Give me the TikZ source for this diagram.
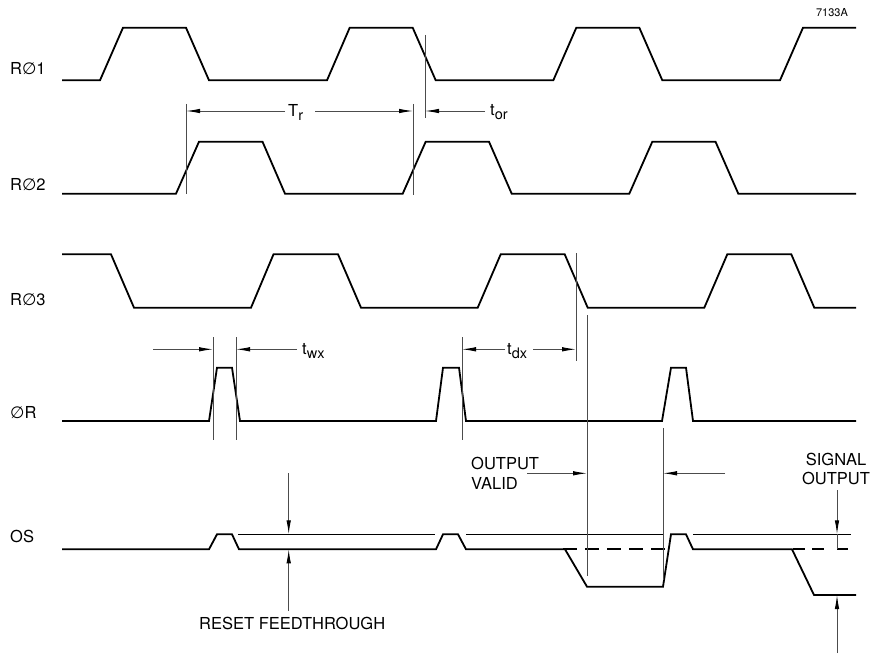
\documentclass[tikz,border=0pt]{standalone}
\usepackage{fontspec}
\setmainfont{TeX Gyre Heros}
\newfontfamily\symf{DejaVu Sans}
\usetikzlibrary{arrows.meta}
\newcommand{\phisym}{{\symf\fontsize{16.5}{16.5}\selectfont ∅}}
\newcommand{\subtxt}[1]{\raisebox{-4pt}{\fontsize{14.5}{14.5}\selectfont #1}}
\begin{document}
\begin{tikzpicture}[x=1pt,y=-1pt,
  sig/.style={line width=1.8pt, line join=miter},
  dim/.style={line width=0.9pt, black!70},
  arr/.style={dim,-{Latex[length=14pt,width=4.5pt,color=black]}},
  lbl/.style={font=\fontsize{16.5}{16.5}\selectfont, inner sep=0pt},
  small/.style={font=\fontsize{11}{11}\selectfont, inner sep=0pt}]
\useasboundingbox (0,0) rectangle (874,655);

% ---- signals ----
\draw[sig] (62,80.3)--(100,80.3)--(123,27.7)--(186,27.7)--(209,80.3)--(327,80.3)--(349.7,27.7)--(412.7,27.7)--(435.7,80.3)--(553.3,80.3)--(576.3,27.7)--(639.3,27.7)--(662.3,80.3)--(780,80.3)--(803,27.7)--(856,27.7);
\draw[sig] (62,193.7)--(176,193.7)--(199,141.7)--(262.5,141.7)--(285,193.7)--(402.7,193.7)--(425.7,141.7)--(489,141.7)--(511.7,193.7)--(629.3,193.7)--(652.3,141.7)--(715.5,141.7)--(738.3,193.7)--(856,193.7);
\draw[sig] (62,254.3)--(111,254.3)--(134,307.7)--(251,307.7)--(273.5,254.3)--(338,254.3)--(361,307.7)--(477.7,307.7)--(500.7,254.3)--(564.7,254.3)--(587.7,307.7)--(704.3,307.7)--(727.3,254.3)--(791.3,254.3)--(814.3,307.7)--(856,307.7);
\draw[sig] (62,421)--(209,421)--(217,367.7)--(232,367.7)--(240,421)--(436,421)--(443,367.7)--(459,367.7)--(466,421)--(662,421)--(671,367.7)--(686,367.7)--(693,421)--(856,421);
\draw[sig] (62,549.3)--(209,549.3)--(217,534.3)--(232,534.3)--(239,549.3)--(436,549.3)--(443,534.3)--(458,534.3)--(466,549.3)--(565,549.3)--(587,586.7)--(663,586.7)--(671,534.3)--(686,534.3)--(693,549.3)--(792,549.3)--(814,595)--(856,595);
\draw[sig, dash pattern=on 14pt off 8pt] (563,549.3)--(667,549.3);
\draw[sig, dash pattern=on 12pt off 7pt] (793,549.3)--(826,549.3);
\draw[sig] (837,549.3)--(848,549.3);
% reference line
\draw[line width=0.9pt] (238,534.3)--(435,534.3) (466,534.3)--(664,534.3) (693,534.3)--(851,534.3);

% ---- labels ----
\node[lbl, anchor=base west] (l1) at (10,75) {R\phisym1};
\node[lbl, anchor=base west] (l2) at (10,190) {R\phisym2};
\node[lbl, anchor=base west] (l3) at (10,305) {R\phisym3};
\node[lbl, anchor=base west] (l4) at (10,418) {\phisym R};
\node[lbl, anchor=base west] (l5) at (10,542) {OS};
\node[small, anchor=base] (code) at (832,16.7) {7133A};

% ---- vertical reference lines ----
\draw[dim] (186,104)--(186,194);
\draw[dim] (413,104)--(413,195);
\draw[dim] (425,35)--(425,118);
\draw[dim] (213,337)--(213,440);
\draw[dim] (236,337)--(236,440);
\draw[dim] (462,337)--(462,440);
\draw[dim] (576,253)--(576,361);
\draw[dim] (587,315)--(587,576);
\draw[dim] (663,428)--(663,580);

% ---- T_r and t_or ----
\node[lbl, anchor=base west] (Tr) at (288,116.7) {T\subtxt{r}};
\draw[arr] (285,111)--(186,111);
\draw[arr] (315,111)--(413,111);
\node[lbl, anchor=base west] (tor) at (490,115.5) {t\subtxt{or}};
\draw[arr] (485,111)--(425,111);

% ---- t_wx ----
\node[lbl, anchor=base west] (twx) at (302,354) {t\subtxt{wx}};
\draw[arr] (153,349.3)--(213,349.3);
\draw[arr] (297,349.3)--(236,349.3);

% ---- t_dx ----
\node[lbl, anchor=base west] (tdx) at (507,354) {t\subtxt{dx}};
\draw[arr] (505,349.3)--(462,349.3);
\draw[arr] (533,349.3)--(576,349.3);

% ---- output valid ----
\node[lbl, anchor=base west] (ov1) at (471,469.3) {OUTPUT};
\node[lbl, anchor=base west] (ov2) at (471,489.3) {VALID};
\draw[arr] (527,473.3)--(587,473.3);
\draw[arr] (725,473.3)--(663,473.3);

% ---- reset feedthrough ----
\draw[arr] (288.7,473)--(288.7,534.3);
\draw[arr] (288.7,611)--(288.7,549.3);
\node[lbl, anchor=base west] (rf) at (199,629.3) {RESET FEEDTHROUGH};

% ---- signal output ----
\node[lbl, anchor=base] (so1) at (836,465.7) {SIGNAL};
\node[lbl, anchor=base] (so2) at (836,484) {OUTPUT};
\draw[arr] (837,490)--(837,534.3);
\draw[dim] (837,534.3)--(837,549.3);
\draw[arr] (837,653)--(837,595);
\end{tikzpicture}
\end{document}
